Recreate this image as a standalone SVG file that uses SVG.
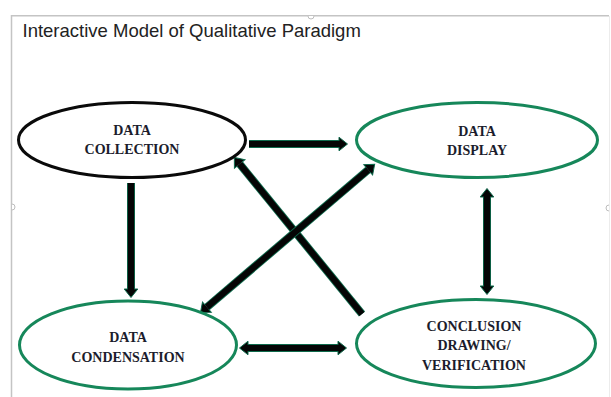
<svg xmlns="http://www.w3.org/2000/svg" width="611" height="397" viewBox="0 0 611 397">
<style>
.frame{stroke:#c4c4c4;stroke-width:1.5;fill:none}
.handle{fill:#ffffff;stroke:#bdbdbd;stroke-width:1}
.title{font-family:"Liberation Sans",Arial,sans-serif;font-size:18.5px;fill:#222222}
.node-black{fill:#ffffff;stroke:#0a0a0a;stroke-width:3}
.node-green{fill:#ffffff;stroke:#16875a;stroke-width:3}
.label{font-family:"Liberation Serif","Times New Roman",serif;font-weight:bold;font-size:14px;fill:#1b1c2c;text-anchor:middle}
.halo{stroke:#0e6a4c;stroke-width:8;fill:none}
.shaft{stroke:#050505;stroke-width:6.2;fill:none}
</style>
<defs>
<marker id="head" markerUnits="userSpaceOnUse" orient="auto-start-reverse" refX="0" refY="0" markerWidth="12" markerHeight="16" overflow="visible">
<path d="M0,-3.1 L0,-6.8 L8.5,0 L0,6.8 L0,3.1" fill="#050505" stroke="#0e6a4c" stroke-width="1"/>
</marker>
</defs>
<rect width="611" height="397" fill="#ffffff"/>
<g id="frame">
<path class="frame" d="M11.5,397 L11.5,15.8 L609,15.8"/>
<line x1="609.5" y1="16" x2="609.5" y2="397" stroke="#ececec" stroke-width="1"/>
<path class="handle" d="M308,16 a3,3 0 0 0 6,0"/>
<path class="handle" d="M12,204 a3,3 0 0 1 0,6"/>
<path class="handle" d="M609,205 a3,3 0 0 0 0,6"/>
</g>
<text class="title" x="22.5" y="36.5">Interactive Model of Qualitative Paradigm</text>
<g id="connectors">
<g id="c-collection-display">
<line class="halo" x1="249" y1="144" x2="339" y2="144"/>
<line class="shaft" x1="249" y1="144" x2="339" y2="144" marker-end="url(#head)"/>
</g>
<g id="c-collection-condensation">
<line class="halo" x1="131" y1="183" x2="131" y2="289"/>
<line class="shaft" x1="131" y1="183" x2="131" y2="289" marker-end="url(#head)"/>
</g>
<g id="c-condensation-conclusion">
<line class="halo" x1="248" y1="348" x2="338" y2="348"/>
<line class="shaft" x1="248" y1="348" x2="338" y2="348" marker-start="url(#head)" marker-end="url(#head)"/>
</g>
<g id="c-display-conclusion">
<line class="halo" x1="487" y1="197" x2="487" y2="286"/>
<line class="shaft" x1="487" y1="197" x2="487" y2="286" marker-start="url(#head)" marker-end="url(#head)"/>
</g>
<g id="c-conclusion-collection">
<line class="halo" x1="362" y1="314" x2="239.7" y2="164"/>
<line class="shaft" x1="362" y1="314" x2="239.7" y2="164" marker-end="url(#head)"/>
</g>
<g id="c-condensation-display">
<line class="halo" x1="206.9" y1="307.2" x2="368.2" y2="169.8"/>
<line class="shaft" x1="206.9" y1="307.2" x2="368.2" y2="169.8" marker-start="url(#head)" marker-end="url(#head)"/>
</g>
</g>
<g id="data-collection">
<ellipse class="node-black" cx="132" cy="140" rx="113.5" ry="37.5"/>
<text class="label" x="132" y="134.5">DATA</text>
<text class="label" x="132" y="153.5">COLLECTION</text>
</g>
<g id="data-display">
<ellipse class="node-green" cx="477" cy="140" rx="120.5" ry="37.5"/>
<text class="label" x="477" y="135.5">DATA</text>
<text class="label" x="477" y="155">DISPLAY</text>
</g>
<g id="data-condensation">
<ellipse class="node-green" cx="128" cy="345" rx="108.5" ry="44"/>
<text class="label" x="128" y="342">DATA</text>
<text class="label" x="128" y="361.5">CONDENSATION</text>
</g>
<g id="conclusion">
<ellipse class="node-green" cx="476" cy="343.5" rx="119.5" ry="44"/>
<text class="label" x="474" y="331">CONCLUSION</text>
<text class="label" x="474" y="350">DRAWING/</text>
<text class="label" x="474" y="369.5">VERIFICATION</text>
</g>
</svg>
